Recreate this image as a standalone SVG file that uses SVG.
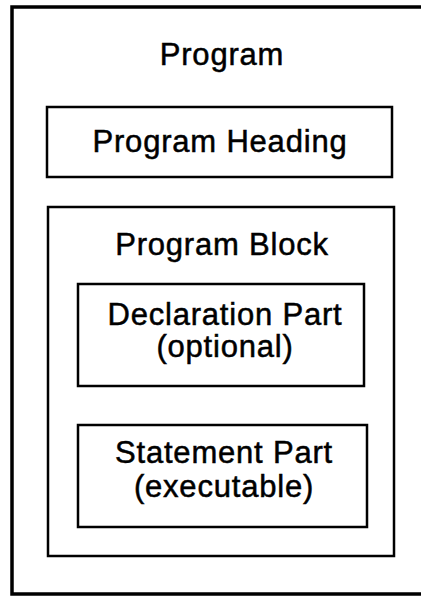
<svg xmlns="http://www.w3.org/2000/svg" width="421" height="597" viewBox="0 0 421 597">
<style>
.box{fill:none;stroke:#000;stroke-width:2.5}
.t{font-family:"Liberation Sans",Arial,sans-serif;font-size:31px;letter-spacing:0.8px;text-anchor:middle;fill:#000;stroke:#000;stroke-width:0.5}
</style>
<rect width="421" height="597" fill="#fff"/>
<g id="program">
<rect class="box" x="12" y="7" width="440" height="587" style="stroke-width:3.5"/>
<text class="t" x="222" y="65">Program</text>
</g>
<g id="program-heading">
<rect class="box" x="47" y="107" width="345" height="70"/>
<text class="t" x="220" y="152">Program Heading</text>
</g>
<g id="program-block">
<rect class="box" x="48" y="207" width="346" height="349"/>
<text class="t" x="222" y="255">Program Block</text>
</g>
<g id="declaration-part">
<rect class="box" x="78" y="284" width="286" height="102"/>
<text class="t" x="225" y="325">Declaration Part</text>
<text class="t" x="225" y="357">(optional)</text>
</g>
<g id="statement-part">
<rect class="box" x="78" y="425" width="289" height="102"/>
<text class="t" x="224" y="463">Statement Part</text>
<text class="t" x="224" y="497">(executable)</text>
</g>
<g id="connectors"/>
</svg>
